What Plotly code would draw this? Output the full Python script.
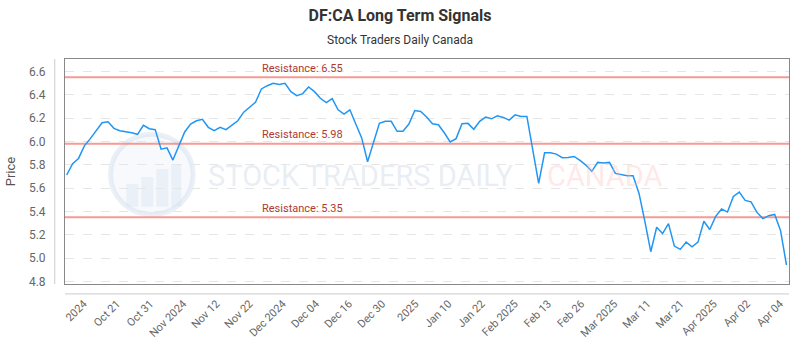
import plotly.graph_objects as go

prices = [5.712, 5.809, 5.854, 5.962, 6.024, 6.095, 6.160, 6.169, 6.112, 6.092,
          6.084, 6.075, 6.061, 6.138, 6.109, 6.101, 5.933, 5.945, 5.840, 5.962,
          6.081, 6.149, 6.177, 6.189, 6.121, 6.092, 6.121, 6.101, 6.138, 6.177,
          6.251, 6.296, 6.336, 6.450, 6.478, 6.498, 6.489, 6.498, 6.427, 6.393,
          6.410, 6.467, 6.427, 6.370, 6.333, 6.367, 6.271, 6.234, 6.271, 6.149,
          6.030, 5.826, 5.996, 6.155, 6.172, 6.172, 6.087, 6.087, 6.149, 6.265,
          6.257, 6.209, 6.152, 6.143, 6.074, 5.996, 6.024, 6.152, 6.155, 6.104,
          6.172, 6.209, 6.194, 6.220, 6.206, 6.183, 6.228, 6.214, 6.214, 5.930,
          5.641, 5.902, 5.902, 5.891, 5.860, 5.862, 5.871, 5.837, 5.797, 5.743,
          5.820, 5.814, 5.820, 5.726, 5.715, 5.706, 5.706, 5.556, 5.315, 5.054,
          5.264, 5.210, 5.295, 5.102, 5.074, 5.136, 5.096, 5.136, 5.315, 5.244,
          5.357, 5.420, 5.394, 5.528, 5.565, 5.494, 5.482, 5.391, 5.338, 5.363,
          5.374, 5.235, 4.940]
x_idx = list(range(len(prices)))

tick_labels = ["2024", "Oct 21", "Oct 31", "Nov 2024", "Nov 12", "Nov 22", "Dec 2024",
               "Dec 04", "Dec 16", "Dec 30", "2025", "Jan 10", "Jan 22", "Feb 2025",
               "Feb 13", "Feb 26", "Mar 2025", "Mar 11", "Mar 21", "Apr 2025",
               "Apr 02", "Apr 04"]
tick_pos = [2.9, 8.52, 14.14, 19.76, 25.38, 31.0, 36.62, 42.24, 47.86, 53.48, 59.1,
            64.72, 70.34, 75.96, 81.58, 87.2, 92.82, 98.44, 104.06, 109.68, 115.3, 120.92]

resistance = [6.55, 5.98, 5.35]
y_ticks = [4.8, 5.0, 5.2, 5.4, 5.6, 5.8, 6.0, 6.2, 6.4, 6.6]

FONT = "Roboto, 'Open Sans', sans-serif"

fig = go.Figure()

for r in resistance:
    fig.add_trace(go.Scatter(x=[-0.29, 122.43], y=[r, r], mode="lines",
                             line=dict(color="rgba(242,130,120,0.8)", width=2),
                             hoverinfo="skip", showlegend=False))

fig.add_trace(go.Scatter(x=x_idx, y=prices, mode="lines",
                         line=dict(color="#2196f3", width=1.5),
                         showlegend=False))

shapes = []
shapes.append(dict(type="circle", xref="paper", yref="paper",
                   x0=(109 - 63.3) / 727, x1=(192 - 63.3) / 727,
                   y0=(286 - 216) / 227, y1=(286 - 135) / 227,
                   line=dict(color="rgba(205,218,236,0.4)", width=5),
                   fillcolor="rgba(228,236,248,0.3)", layer="below"))
for bx0, bx1, by in [(125, 137, 185), (140, 152, 178), (155, 167, 170), (170, 180, 165)]:
    shapes.append(dict(type="rect", xref="paper", yref="paper",
                       x0=(bx0 - 63.3) / 727, x1=(bx1 - 63.3) / 727,
                       y0=(286 - 208) / 227, y1=(286 - by) / 227,
                       line=dict(width=0), fillcolor="rgba(205,218,236,0.3)", layer="below"))
shapes.append(dict(type="line", xref="paper", yref="paper",
                   x0=(53 - 63.3) / 727, x1=(53 - 63.3) / 727, y0=0, y1=1,
                   line=dict(color="#cccccc", width=1)))
shapes.append(dict(type="line", xref="paper", yref="paper",
                   x0=0, x1=1, y0=(286 - 296) / 227, y1=(286 - 296) / 227,
                   line=dict(color="#cccccc", width=1)))

annotations = []
for r in resistance:
    annotations.append(dict(xref="paper", yref="y", x=(259.5 - 63.3) / 727, y=r,
                            xanchor="left", yanchor="middle", yshift=9,
                            text=f"Resistance: {r:.2f}", showarrow=False,
                            font=dict(family=FONT, size=11, color="#b03a2e")))
annotations.append(dict(xref="paper", yref="paper", x=(205 - 63.3) / 727,
                        y=(286 - 177) / 227, xanchor="left", yanchor="middle",
                        text="STOCK TRADERS DAILY", showarrow=False,
                        font=dict(family="Roboto, sans-serif",
                                  size=29, color="rgba(205,215,232,0.45)")))
annotations.append(dict(xref="paper", yref="paper", x=(545 - 63.3) / 727,
                        y=(286 - 177) / 227, xanchor="left", yanchor="middle",
                        text="CANADA", showarrow=False,
                        font=dict(family="Roboto, sans-serif",
                                  size=29, color="rgba(255,190,190,0.35)")))
annotations.append(dict(xref="paper", yref="paper", x=(400 - 63.3) / 727,
                        y=1 + (59 - 40) / 227, xanchor="center", yanchor="middle",
                        text="Stock Traders Daily Canada", showarrow=False,
                        font=dict(family=FONT, size=12, color="#333333")))

fig.update_layout(
    width=800, height=350,
    margin=dict(l=63, r=10, t=59, b=64),
    paper_bgcolor="white", plot_bgcolor="white",
    title=dict(text="<b>DF:CA Long Term Signals</b>", x=0.5, xanchor="center",
               y=1 - 15 / 350, yanchor="middle",
               font=dict(family=FONT, size=16, color="#333333")),
    shapes=shapes, annotations=annotations,
    xaxis=dict(range=[-0.29, 122.43], tickmode="array", tickvals=tick_pos,
               ticktext=tick_labels, tickangle=-45, showgrid=False, zeroline=False,
               showline=True, mirror=True, linecolor="#888888", linewidth=1,
               ticks="", ticklabelstandoff=8,
               tickfont=dict(family=FONT, size=11, color="#666666")),
    yaxis=dict(range=[4.777, 6.707], tickmode="array", tickvals=y_ticks,
               ticktext=[f"{v:.1f}" for v in y_ticks], showgrid=True,
               gridcolor="#e6e6e6", griddash="dash", gridwidth=1, zeroline=False,
               showline=True, mirror=True, linecolor="#888888", linewidth=1,
               ticks="", ticklabelstandoff=16,
               title=dict(text="Price", standoff=10,
                          font=dict(family=FONT, size=13, color="#555555")),
               tickfont=dict(family=FONT, size=12, color="#666666")),
)

fig.write_html("out.html")
